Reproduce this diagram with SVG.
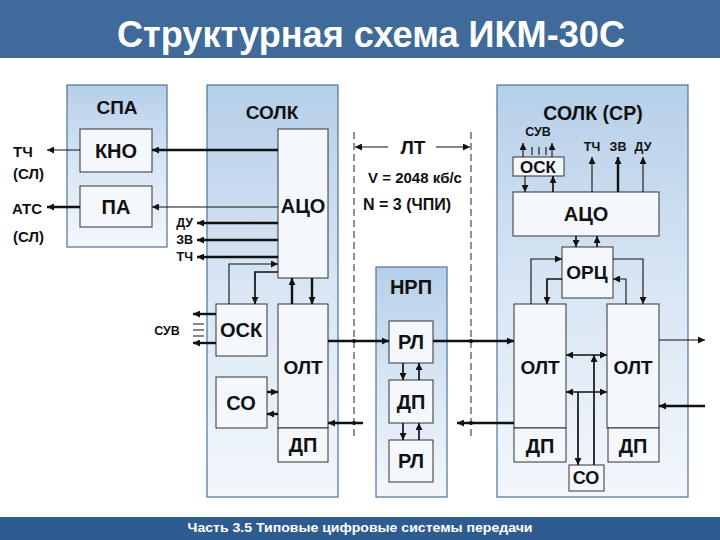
<svg xmlns="http://www.w3.org/2000/svg" width="720" height="540" viewBox="0 0 720 540">
<defs>
<linearGradient id="pg" x1="0" y1="0" x2="0" y2="1">
<stop offset="0" stop-color="#b6cfe9"/>
<stop offset="0.5" stop-color="#d9e6f4"/>
<stop offset="1" stop-color="#f3f7fc"/>
</linearGradient>
<marker id="ah" viewBox="0 0 10 10" refX="10" refY="5" markerWidth="8" markerHeight="7" markerUnits="userSpaceOnUse" orient="auto-start-reverse"><path d="M0,0 L10,5 L0,10 z" fill="#111"/></marker>
</defs>
<style>
.panel{fill:url(#pg);stroke:#4d7299;stroke-width:1.2}
.box{fill:#f4f8fc;stroke:#333;stroke-width:1}
.t{font-family:"Liberation Sans",Arial,sans-serif;font-weight:bold;fill:#111;text-anchor:middle;dominant-baseline:central}
.big{font-size:20px}
.mid{font-size:19px}
.sm{font-size:15px}
.xs{font-size:12.5px}
.l{text-anchor:start}
.r{text-anchor:end}
.c{fill:none;stroke:#111}
.th{stroke-width:1.1}
.tk{stroke-width:2.4}
.md{stroke-width:1.7}
.a{marker-end:url(#ah)}
.a2{marker-start:url(#ah);marker-end:url(#ah)}
.dash{fill:none;stroke:#222;stroke-width:1;stroke-dasharray:7,4}
</style>
<rect x="0" y="0" width="720" height="58" fill="#3f6a9a"/>
<text x="371" y="34" class="t" style="font-size:36px;fill:#fff" textLength="508" lengthAdjust="spacingAndGlyphs">Структурная схема ИКМ-30С</text>
<rect x="0" y="517" width="720" height="23" fill="#2f5c90"/>
<text x="360" y="528" class="t" style="font-size:12.5px;fill:#fff" textLength="345" lengthAdjust="spacingAndGlyphs">Часть 3.5 Типовые цифровые системы передачи</text>

<g id="panel-spa"><rect class="panel" x="67" y="85" width="100" height="162"/><text class="t mid" x="117" y="107">СПА</text></g>
<g id="panel-solk"><rect class="panel" x="207" y="85" width="131" height="412"/><text class="t mid" x="272" y="112">СОЛК</text></g>
<g id="panel-nrp"><rect class="panel" x="376" y="267" width="71" height="230"/><text class="t big" x="411" y="287">НРП</text></g>
<g id="panel-solk-sr"><rect class="panel" x="497" y="85" width="191" height="412"/><text class="t mid" x="593" y="113" style="font-size:19.5px">СОЛК (СР)</text></g>

<g id="kno"><rect class="box" x="80" y="129" width="72" height="43"/><text class="t big" x="116" y="151">КНО</text></g>
<g id="pa"><rect class="box" x="80" y="186" width="72" height="41"/><text class="t big" x="116" y="207">ПА</text></g>
<g id="aco-l"><rect class="box" x="278" y="129" width="50" height="149"/><text class="t big" x="303" y="206">АЦО</text></g>
<g id="osk-l"><rect class="box" x="216" y="304" width="51" height="52"/><text class="t big" x="241" y="330">ОСК</text></g>
<g id="so-l"><rect class="box" x="216" y="377" width="51" height="51"/><text class="t big" x="241" y="403">СО</text></g>
<g id="olt-l"><rect class="box" x="278" y="304" width="50" height="124"/><text class="t mid" x="303" y="367">ОЛТ</text></g>
<g id="dp-l"><rect class="box" x="278" y="428" width="50" height="34"/><text class="t big" x="303" y="445">ДП</text></g>

<g id="rl1"><rect class="box" x="389" y="321" width="44" height="42"/><text class="t big" x="411" y="342">РЛ</text></g>
<g id="dp-n"><rect class="box" x="389" y="380" width="44" height="43"/><text class="t big" x="411" y="402">ДП</text></g>
<g id="rl2"><rect class="box" x="389" y="440" width="44" height="42"/><text class="t big" x="411" y="461">РЛ</text></g>

<g id="osk-r"><rect class="box" x="513" y="157" width="51" height="19"/><text class="t" style="font-size:17px" x="538" y="167">ОСК</text></g>
<g id="aco-r"><rect class="box" x="513" y="192" width="146" height="44"/><text class="t big" x="586" y="214">АЦО</text></g>
<g id="orc"><rect class="box" x="562" y="247" width="51" height="51"/><text class="t mid" x="587" y="272">ОРЦ</text></g>
<g id="olt-r1"><rect class="box" x="514" y="304" width="52" height="124"/><text class="t mid" x="540" y="367">ОЛТ</text></g>
<g id="dp-r1"><rect class="box" x="514" y="428" width="52" height="34"/><text class="t big" x="540" y="446">ДП</text></g>
<g id="olt-r2"><rect class="box" x="607" y="304" width="52" height="124"/><text class="t mid" x="633" y="367">ОЛТ</text></g>
<g id="dp-r2"><rect class="box" x="608" y="428" width="51" height="34"/><text class="t big" x="633" y="446">ДП</text></g>
<g id="so-r"><rect class="box" x="569" y="465" width="35" height="26"/><text class="t" style="font-size:18px" x="586" y="478">СО</text></g>

<g id="labels">
<text class="t sm l" x="13" y="151">ТЧ</text>
<text class="t sm l" x="13" y="173">(СЛ)</text>
<text class="t sm l" x="12" y="208">АТС</text>
<text class="t sm l" x="13" y="236">(СЛ)</text>
<text class="t xs r" x="193" y="223">ДУ</text>
<text class="t xs r" x="193" y="240">ЗВ</text>
<text class="t xs r" x="193" y="257">ТЧ</text>
<text class="t xs" x="167" y="331">СУВ</text>
<text class="t mid" x="413" y="147">ЛТ</text>
<text class="t sm" x="415" y="177">V = 2048 кб/с</text>
<text class="t l" style="font-size:16px" x="363" y="204">N = 3 (ЧПИ)</text>
<text class="t xs" x="538" y="132">СУВ</text>
<text class="t xs" x="592" y="147">ТЧ</text>
<text class="t xs" x="618" y="147">ЗВ</text>
<text class="t xs" x="643" y="147">ДУ</text>
</g>

<g id="connectors">
<line class="dash" x1="354" y1="132" x2="354" y2="438"/>
<line class="dash" x1="471" y1="132" x2="471" y2="438"/>
<path class="c th a" d="M388,147 H355"/>
<path class="c th a" d="M436,147 H470"/>

<path class="c tk a" d="M278,150 H152"/>
<path class="c th a" d="M80,150 H47"/>
<path class="c th a" d="M278,207 H152"/>
<path class="c tk a" d="M80,207 H47"/>
<path class="c tk a" d="M278,223 H197"/>
<path class="c tk a" d="M278,240 H197"/>
<path class="c tk a" d="M278,257 H197"/>
<path class="c th a" d="M229,304 V264 H278"/>
<path class="c md a" d="M278,272 H255 V304"/>
<path class="c tk a" d="M292,304 V278"/>
<path class="c tk a" d="M312,278 V304"/>
<path class="c tk a" d="M216,314 H193"/>
<path class="c tk a" d="M216,343 H193"/>
<path class="c th" d="M193,324 H204 M193,330 H204 M193,336 H204"/>
<path class="c tk a" d="M267,392 H278"/>
<path class="c tk a" d="M278,414 H267"/>

<path class="c tk a" d="M328,341 H389"/>
<path class="c tk a" d="M363,423 H328"/>
<circle cx="354" cy="341" r="2" fill="#111"/>
<circle cx="354" cy="423" r="2" fill="#111"/>
<path class="c md a" d="M403,363 V380"/>
<path class="c md a" d="M419,380 V363"/>
<path class="c md a" d="M403,423 V440"/>
<path class="c md a" d="M419,440 V423"/>
<path class="c tk a" d="M433,341 H514"/>
<path class="c tk a" d="M514,423 H457"/>
<circle cx="471" cy="341" r="2" fill="#111"/>
<circle cx="471" cy="423" r="2" fill="#111"/>

<path class="c th a" d="M523,157 V143"/>
<path class="c th a" d="M552,157 V143"/>
<path class="c th" d="M532,147 V155 M539,147 V155 M546,147 V155"/>
<path class="c th a" d="M592,192 V157"/>
<path class="c tk a" d="M618,192 V157"/>
<path class="c th a" d="M643,192 V157"/>
<path class="c th a" d="M525,176 V192"/>
<path class="c md a" d="M553,192 V176"/>
<path class="c md a" d="M576,236 V247"/>
<path class="c md a" d="M597,247 V236"/>
<path class="c th a" d="M531,304 V259 H562"/>
<path class="c md a" d="M562,279 H547 V304"/>
<path class="c th a" d="M613,259 H643 V304"/>
<path class="c th a" d="M626,304 V279 H613"/>
<path class="c md a2" d="M566,355 H607"/>
<path class="c md a2" d="M566,392 H607"/>
<path class="c md a" d="M594,465 V355"/>
<path class="c md a" d="M578,392 V465"/>
<path class="c th a" d="M659,340 H705"/>
<path class="c tk a" d="M705,406 H659"/>
</g>
</svg>
